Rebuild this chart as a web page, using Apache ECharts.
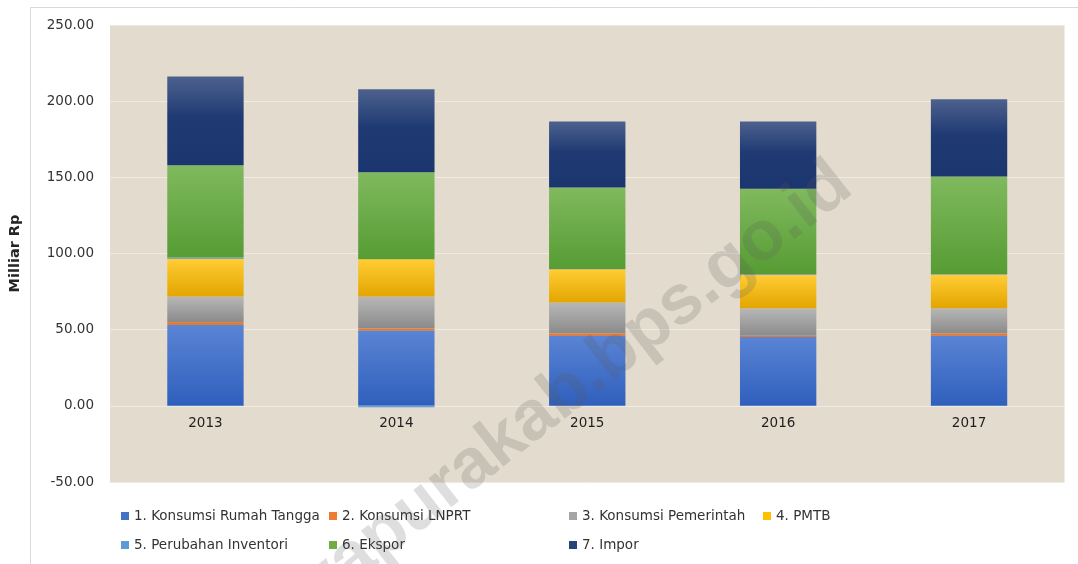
<!DOCTYPE html>
<html>
<head>
<meta charset="utf-8">
<script src="https://cdn.jsdelivr.net/npm/echarts@6/dist/echarts.min.js"></script>
<style>
html,body{margin:0;padding:0;background:#ffffff;}
#chart{width:1078px;height:564px;}
</style>
</head>
<body>
<div id="chart"></div>
<script>
// ---- data ----
const years = ['2013', '2014', '2015', '2016', '2017'];
const seriesNames = ['1. Konsumsi Rumah Tangga', '2. Konsumsi LNPRT', '3. Konsumsi Pemerintah', '4. PMTB', '5. Perubahan Inventori', '6. Ekspor', '7. Impor'];
const konsumsiRT = [53.3, 49.4, 46.0, 45.2, 46.0];
const konsumsiLNPRT = [1.8, 1.6, 1.7, 0.8, 1.7];
const konsumsiPemerintah = [16.7, 20.8, 20.1, 18.1, 16.4];
const pmtb = [24.8, 24.5, 21.9, 22.0, 22.1];
const perubahanInventori = [0.8, -1.0, 0.2, 0.4, 0.3];
const ekspor = [60.6, 57.1, 53.4, 56.0, 64.1];
const impor = [58.2, 54.5, 43.3, 44.1, 50.7];
const yTicks = [-50, 0, 50, 100, 150, 200, 250];

const values = [konsumsiRT, konsumsiLNPRT, konsumsiPemerintah, pmtb, perubahanInventori, ekspor, impor];

// ---- styles ----
const G = (stops) => new echarts.graphic.LinearGradient(0, 0, 0, 1, stops.map((c) => ({offset: c[0], color: c[1]})));
const fills = [
  G([[0, '#5a84d4'], [1, '#2f5fbd']]),
  G([[0, '#f08a45'], [1, '#d86a22']]),
  G([[0, '#b7b7b7'], [1, '#8b8b8b']]),
  G([[0, '#ffcd35'], [1, '#e3a500']]),
  G([[0, '#7fb3e2'], [1, '#4a8acb']]),
  G([[0, '#80b95e'], [1, '#569c33']]),
  G([[0, '#4d618d'], [0.45, '#203b74'], [1, '#1b356f']])
];
const legendColors = ['#4472c4', '#ed7d31', '#a5a5a5', '#ffc000', '#5b9bd5', '#70ad47', '#264478'];

const gridTop = 25, gridBottom = 82, chartH = 564;
const plotH = chartH - gridTop - gridBottom;
// distance from bottom of plot (y = min) up to the zero line, in px
const zeroOffset = plotH * (0 - yTicks[0]) / (yTicks[yTicks.length - 1] - yTicks[0]);

const chart = echarts.init(document.getElementById('chart'), null, {renderer: 'canvas'});

const legendCols = [[0, 4], [1, 5], [2, 6], [3]];
const legendLefts = [116, 324, 564, 758];
const legends = legendCols.map((idxs, c) => ({
  orient: 'vertical',
  left: legendLefts[c],
  top: 503,
  itemWidth: 8,
  itemHeight: 8,
  itemGap: 13,
  icon: 'rect',
  selectedMode: false,
  textStyle: {fontFamily: 'DejaVu Sans', fontSize: 13.5, color: '#333333', lineHeight: 16},
  data: idxs.map(i => ({name: seriesNames[i], itemStyle: {color: legendColors[i]}}))
}));

const option = {
  backgroundColor: '#ffffff',
  animation: false,
  grid: {
    left: 109.5, right: 13.5, top: gridTop, bottom: gridBottom,
    show: true, backgroundColor: '#e3dbce', borderWidth: 0
  },
  legend: legends,
  xAxis: {
    type: 'category',
    data: years,
    position: 'bottom',
    offset: -zeroOffset,
    axisLine: {show: true, onZero: false, lineStyle: {color: '#efebe4', width: 1}},
    axisTick: {show: false},
    axisLabel: {margin: 11, fontFamily: 'DejaVu Sans', fontSize: 13.5, color: '#1f1f1f'}
  },
  yAxis: {
    type: 'value',
    min: yTicks[0], max: yTicks[yTicks.length - 1], interval: 50,
    name: 'Milliar Rp',
    nameLocation: 'middle',
    nameRotate: 90,
    nameGap: 87,
    nameTextStyle: {fontFamily: 'DejaVu Sans', fontWeight: 'bold', fontSize: 14.5, color: '#262626'},
    axisLine: {show: false},
    axisTick: {show: false},
    splitLine: {lineStyle: {color: '#efebe4', width: 1}},
    axisLabel: {margin: 16, fontFamily: 'DejaVu Sans', fontSize: 13.5, color: '#333333',
      formatter: v => v.toFixed(2)}
  },
  series: seriesNames.map((name, i) => ({
    name,
    type: 'bar',
    stack: 'total',
    barCategoryGap: '60%',
    data: values[i],
    itemStyle: {color: fills[i]}
  })),
  graphic: [
    {type: 'rect', z: -1, silent: true, shape: {x: 30.5, y: 7.5, width: 1100, height: 600},
      style: {fill: 'none', stroke: '#d9d9d9', lineWidth: 1}},
    {type: 'text', z: 100, silent: true, x: 552, y: 404, rotation: Math.PI * 38 / 180,
      style: {text: 'jayapurakab.bps.go.id', font: 'bold 70px "Liberation Sans"', fill: 'rgba(90,90,90,0.2)',
        align: 'center', verticalAlign: 'middle'}}
  ]
};
chart.setOption(option);
</script>
</body>
</html>
